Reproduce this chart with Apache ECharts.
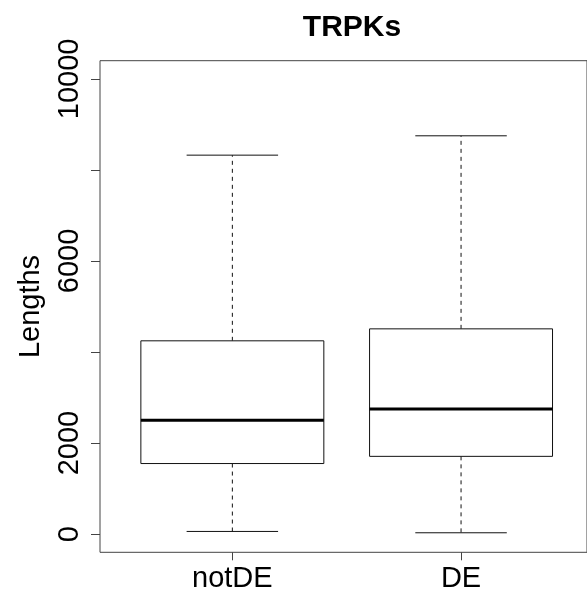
<!DOCTYPE html>
<html>
<head>
<meta charset="utf-8">
<style>
  html, body { margin: 0; padding: 0; background: #ffffff; }
  #chart { width: 587px; height: 598px; }
</style>
<script src="https://cdn.jsdelivr.net/npm/echarts@6/dist/echarts.min.js"></script>
</head>
<body>
<div id="chart"></div>
<script>
// ---- data ----
const categories = ['notDE', 'DE'];
const lowerWhisker = [58, 29];
const q1Values = [1550, 1708];
const medianValues = [2500, 2750];
const q3Values = [4246, 4509];
const upperWhisker = [8325, 8750];
const yTickValues = [0, 2000, 4000, 6000, 8000, 10000];
const yLabelValues = [0, 2000, 6000, 10000];
const titleText = 'TRPKs';
const yAxisTitle = 'Lengths';

const boxData = categories.map((c, i) => [i, lowerWhisker[i], q1Values[i], medianValues[i], q3Values[i], upperWhisker[i]]);

const FONT = "'Liberation Sans', Arial, Helvetica, sans-serif";
const INK = '#111';

const chart = echarts.init(document.getElementById('chart'), null, { renderer: 'canvas' });

const option = {
  animation: false,
  backgroundColor: '#ffffff',
  title: {
    text: titleText,
    left: 347,
    top: 8,
    textAlign: 'center',
    textStyle: { fontFamily: FONT, fontWeight: 'bold', fontSize: 30, color: '#000' }
  },
  grid: [
    { left: 118, right: 11.6, top: 60.7, bottom: 45.7, containLabel: false },
    { left: 100, right: -6.6, top: 60.7, bottom: 45.7, show: true, borderColor: '#444', borderWidth: 1, backgroundColor: 'transparent' }
  ],
  xAxis: [
    {
      type: 'category', gridIndex: 0, data: categories, boundaryGap: true, position: 'bottom',
      axisLine: { show: false, onZero: false },
      axisTick: { show: true, alignWithLabel: true, length: 8, lineStyle: { color: '#444' } },
      axisLabel: { fontFamily: FONT, fontSize: 29, color: '#000', margin: 12 },
      splitLine: { show: false }
    },
    { type: 'value', gridIndex: 1, show: false, min: 0, max: 1 }
  ],
  yAxis: [
    {
      type: 'value', gridIndex: 0, min: -400, max: 10400, offset: 18,
      axisLine: { show: false, onZero: false },
      axisTick: { show: true, length: 9, customValues: yTickValues, lineStyle: { color: '#444' } },
      axisLabel: {
        fontFamily: FONT, fontSize: 29, color: '#000', rotate: 90, margin: 16,
        customValues: yLabelValues,
        formatter: function (v) { return String(v); }
      },
      splitLine: { show: false },
      name: yAxisTitle, nameLocation: 'middle', nameRotate: 90, nameGap: 55,
      nameTextStyle: { fontFamily: FONT, fontSize: 29, color: '#000' }
    },
    { type: 'value', gridIndex: 1, show: false, min: 0, max: 1 }
  ],
  series: [{
    type: 'custom',
    xAxisIndex: 0, yAxisIndex: 0,
    data: boxData,
    renderItem: function (params, api) {
      const x = api.value(0);
      const band = api.size([1, 0])[0];
      const halfBox = band * 0.4;
      const halfCap = band * 0.2;
      const pLow = api.coord([x, api.value(1)]);
      const pQ1 = api.coord([x, api.value(2)]);
      const pMed = api.coord([x, api.value(3)]);
      const pQ3 = api.coord([x, api.value(4)]);
      const pHigh = api.coord([x, api.value(5)]);
      const cx = pMed[0];
      const solid = { stroke: INK, lineWidth: 1, fill: null };
      const dashed = { stroke: INK, lineWidth: 1, lineDash: [4, 4], fill: null };
      return {
        type: 'group',
        children: [
          { type: 'line', shape: { x1: cx, y1: pQ3[1], x2: cx, y2: pHigh[1] }, style: dashed },
          { type: 'line', shape: { x1: cx, y1: pQ1[1], x2: cx, y2: pLow[1] }, style: dashed },
          { type: 'line', shape: { x1: cx - halfCap, y1: pHigh[1], x2: cx + halfCap, y2: pHigh[1] }, style: solid },
          { type: 'line', shape: { x1: cx - halfCap, y1: pLow[1], x2: cx + halfCap, y2: pLow[1] }, style: solid },
          { type: 'rect', shape: { x: cx - halfBox, y: pQ3[1], width: halfBox * 2, height: pQ1[1] - pQ3[1] }, style: { stroke: INK, lineWidth: 1, fill: '#ffffff' } },
          { type: 'line', shape: { x1: cx - halfBox, y1: pMed[1], x2: cx + halfBox, y2: pMed[1] }, style: { stroke: '#000', lineWidth: 3 } }
        ]
      };
    }
  }]
};

chart.setOption(option);
</script>
</body>
</html>
